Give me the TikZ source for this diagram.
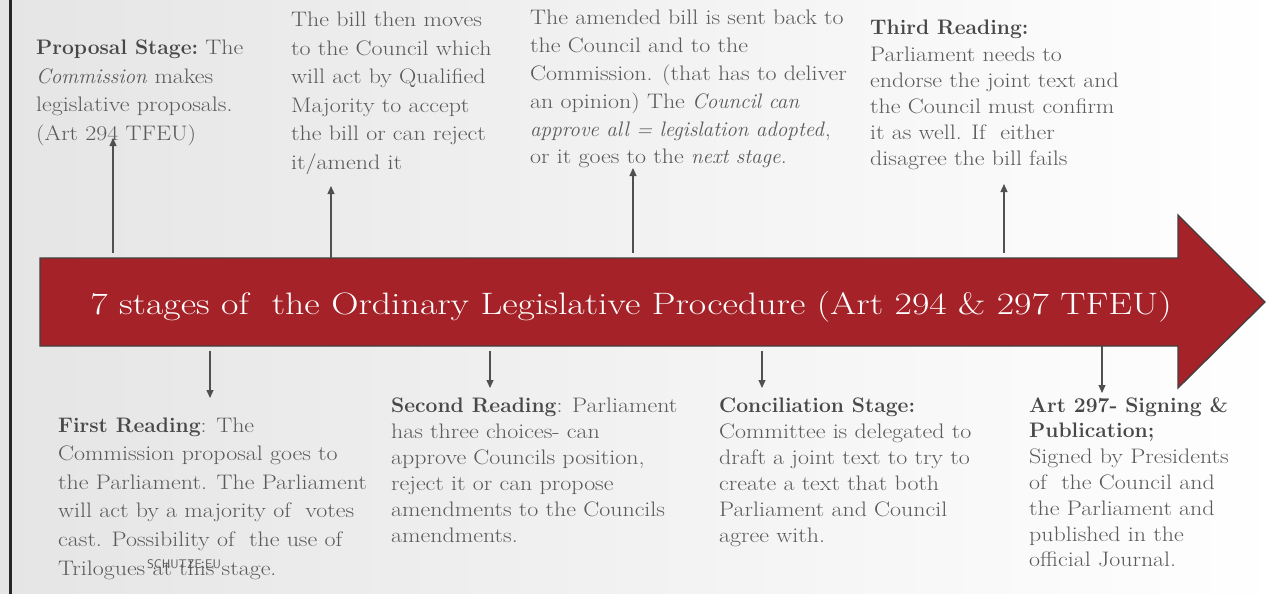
\documentclass[tikz,border=0pt]{standalone}
\usepackage{fontspec}
\usepackage{graphicx}
\usetikzlibrary{arrows.meta}
\definecolor{olpred}{RGB}{165,34,40}
\definecolor{olpedge}{RGB}{64,64,64}
\definecolor{bodytext}{RGB}{90,90,90}
\definecolor{headtext}{RGB}{72,72,72}
\definecolor{linkgray}{RGB}{80,80,80}
\definecolor{bgleft}{RGB}{229,229,229}
% bold headings and italic phrases, narrowed to sit with the widened body text
\newcommand{\hd}[1]{\scalebox{0.88}[1]{\textbf{\color{headtext}#1}}}
\newcommand{\itl}[1]{\scalebox{0.88}[1]{\textit{#1}}}
% a block of left-aligned lines, widened a little, with a given line pitch
\newcommand{\stack}[2]{\fontsize{21}{#1}\selectfont\scalebox{1.14}[1]{\begin{tabular}[t]{@{}l@{}}#2\end{tabular}}}
\tikzset{
  txt/.style={text=bodytext, inner sep=0pt, anchor=base west},
  conn/.style={draw=linkgray, line width=1.1pt, -{Triangle[length=8pt,width=7pt]}},
}
\begin{document}
\begin{tikzpicture}[x=1pt,y=-1pt]
  % page and background
  \useasboundingbox (0,0) rectangle (1283,594);
  \shade[left color=bgleft, right color=white] (0,0) rectangle (1283,594);
  \fill[black!85] (9,0) rectangle (12,594);

  % the big arrow
  \filldraw[fill=olpred, draw=olpedge, line width=1.3pt]
    (40,258) -- (1178,258) -- (1178,215) -- (1265,302) -- (1178,388)
    -- (1178,346) -- (40,346) -- cycle;
  \node[text=white, font=\fontsize{31}{38}\selectfont, inner sep=0pt, anchor=base] (title) at (631,314)
    {\scalebox{1.22}[1]{7 stages of \ the Ordinary Legislative Procedure (Art 294 \& 297 TFEU)}};

  % texts above the arrow
  \node[txt] (prop) at (36,55)
    {\stack{28.4}{\hd{Proposal Stage:} The\\\itl{Commission} makes\\legislative proposals.\\(Art 294 TFEU)}};
  \node[txt] (council) at (291,27)
    {\stack{28.5}{The bill then moves\\to the Council which\\will act by Qualified\\Majority to accept\\the bill or can reject\\it/amend it}};
  \node[txt] (amended) at (530,25)
    {\stack{27.8}{The amended bill is sent back to\\the Council and to the\\Commission. (that has to deliver\\an opinion) The \itl{Council can}\\\itl{approve all = legislation adopted},\\or it goes to the \itl{next stage}.}};
  \node[txt] (third) at (870,35)
    {\stack{26.2}{\hd{Third Reading:}\\Parliament needs to\\endorse the joint text and\\the Council must confirm\\it as well. If \ either\\disagree the bill fails}};

  % texts below the arrow
  \node[txt] (first) at (58,432)
    {\stack{28.6}{\hd{First Reading}: The\\Commission proposal goes to\\the Parliament. The Parliament\\will act by a majority of \ votes\\cast. Possibility of \ the use of\\Trilogues at this stage.}};
  \node[txt] (second) at (391,412)
    {\stack{26}{\hd{Second Reading}: Parliament\\has three choices- can\\approve Councils position,\\reject it or can propose\\amendments to the Councils\\amendments.}};
  \node[txt] (concil) at (719,412)
    {\stack{26}{\hd{Conciliation Stage:}\\Committee is delegated to\\draft a joint text to try to\\create a text that both\\Parliament and Council\\agree with.}};
  \node[txt] (sign) at (1029,412)
    {\stack{25.8}{\hd{Art 297- Signing \&}\\\hd{Publication;}\\Signed by Presidents\\of \ the Council and\\the Parliament and\\published in the\\official Journal.}};

  \node[text=bodytext, font=\sffamily\fontsize{12.5}{14}\selectfont, inner sep=0pt] (mark) at (184,564) {SCHUTZE.EU};

  % connectors between the arrow and the stage texts
  \coordinate (u1a) at (113,253); \coordinate (u1b) at (113,138);
  \coordinate (u2a) at (331,258); \coordinate (u2b) at (331,186);
  \coordinate (u3a) at (633,253); \coordinate (u3b) at (633,168);
  \coordinate (u4a) at (1004,253); \coordinate (u4b) at (1004,184);
  \coordinate (d1a) at (210,351); \coordinate (d1b) at (210,398);
  \coordinate (d2a) at (490,351); \coordinate (d2b) at (490,388);
  \coordinate (d3a) at (762,351); \coordinate (d3b) at (762,388);
  \coordinate (d4a) at (1102,346); \coordinate (d4b) at (1102,393);
  \foreach \s/\e in {u1a/u1b,u2a/u2b,u3a/u3b,u4a/u4b,d1a/d1b,d2a/d2b,d3a/d3b,d4a/d4b}
    \draw[conn] (\s) -- (\e);
\end{tikzpicture}
\end{document}
